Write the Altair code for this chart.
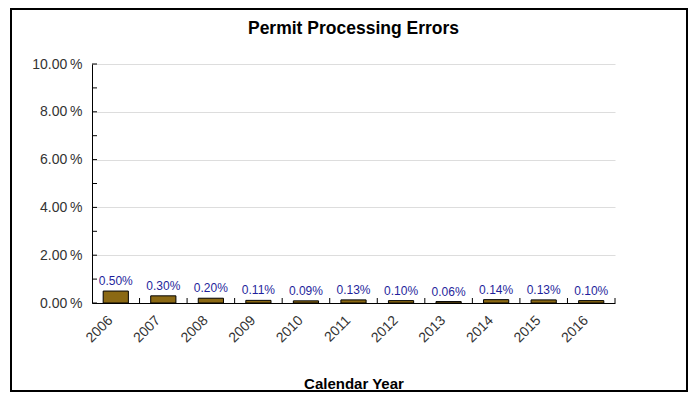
import altair as alt
import pandas as pd

years = ["2006", "2007", "2008", "2009", "2010", "2011", "2012", "2013", "2014", "2015", "2016"]
rates = [0.50, 0.30, 0.20, 0.11, 0.09, 0.13, 0.10, 0.06, 0.14, 0.13, 0.10]
labels = ["0.50%", "0.30%", "0.20%", "0.11%", "0.09%", "0.13%", "0.10%", "0.06%", "0.14%", "0.13%", "0.10%"]
y_ticks = [0, 1, 2, 3, 4, 5, 6, 7, 8, 9, 10]
title_text = ["Permit Processing Errors"]

df = pd.DataFrame({"year": years, "rate": rates, "label": labels})
ticks_df = pd.DataFrame({"v": y_ticks})
title_df = pd.DataFrame({"t": title_text})

FONT = "Liberation Sans"
W, H = 523, 239

xscale = alt.Scale(domain=years, paddingInner=0, paddingOuter=0)
yscale = alt.Scale(domain=[0, 10], nice=False)

frame = alt.Chart(df).mark_rect(fill=None, stroke="black", strokeWidth=1.5).encode(
    x=alt.value(-81), x2=alt.value(595), y=alt.value(-55), y2=alt.value(327)
)

title = alt.Chart(title_df).mark_text(
    fontSize=17.5, fontWeight="bold", font=FONT, color="black", baseline="alphabetic"
).encode(x=alt.value(W / 2), y=alt.value(-30), text="t:N")

bars = alt.Chart(df).mark_bar(
    width=alt.RelativeBandSize(0.53), color="#8B6914", stroke="black", strokeWidth=1
).encode(
    x=alt.X("year:N", scale=xscale, sort=years,
            axis=alt.Axis(title="Calendar Year", labelAngle=-45, labelAlign="right",
                          labelBaseline="top", labelFontSize=14, labelColor="#333333",
                          labelPadding=10, labelOffset=-10, tickSize=0, domainColor="black",
                          titleFontSize=15, titleFontWeight="bold", titleColor="black",
                          titleY=85, titleBaseline="alphabetic", labelFont=FONT, titleFont=FONT)),
    y=alt.Y("rate:Q", scale=yscale,
            axis=alt.Axis(title=None, values=[0, 2, 4, 6, 8, 10],
                          labelExpr="format(datum.value, '.2f') + '\u2009%'",
                          labelFontSize=14, labelColor="#333333", labelPadding=10, tickSize=0,
                          domainColor="black", grid=True, gridColor="#dddddd", labelFont=FONT)),
)

text = alt.Chart(df).mark_text(
    dy=-3, color="#1f1f9c", fontSize=12, font=FONT, baseline="bottom"
).encode(
    x=alt.X("year:N", scale=xscale, sort=years),
    y=alt.Y("rate:Q", scale=yscale),
    text="label:N",
)

yticks = alt.Chart(ticks_df).mark_rule(color="black").encode(
    y=alt.Y("v:Q", scale=yscale),
    x=alt.value(0), x2=alt.value(5),
)

xticks = alt.Chart(df).mark_rule(color="black").encode(
    x=alt.X("year:N", scale=xscale, sort=years, bandPosition=1),
    y=alt.value(H), y2=alt.value(H - 5),
)

chart = alt.layer(frame, title, bars, text, yticks, xticks).properties(
    width=W, height=H,
    background="white",
    autosize=alt.AutoSizeParams(type="none"),
    padding={"left": 84, "top": 56, "right": 73, "bottom": 89},
).configure_view(stroke=None)

chart.save("out.html", embed_options={"renderer": "svg", "actions": False})
